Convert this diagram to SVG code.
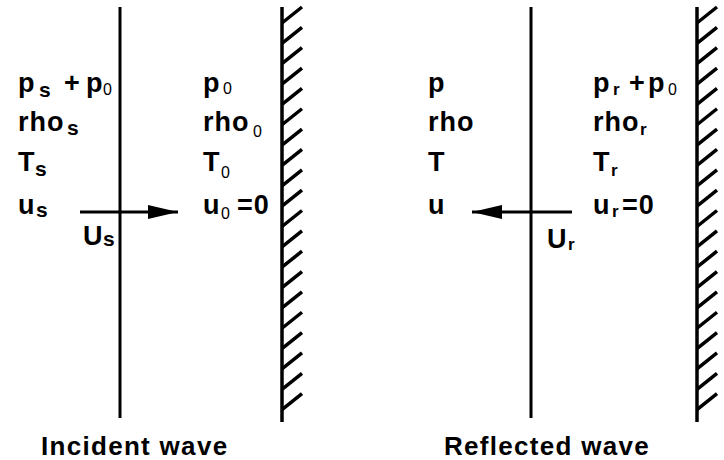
<svg xmlns="http://www.w3.org/2000/svg" width="724" height="460" viewBox="0 0 724 460">
<style>
  text { font-family: "Liberation Sans", Arial, sans-serif; fill: #000; }
  .m { font-size: 27px; font-weight: bold; letter-spacing: 1px; }
  .s { font-size: 21px; font-weight: bold; }
  .r { font-size: 17px; font-weight: bold; }
  .z { font-size: 16px; font-weight: normal; }
  .cap { font-size: 26px; font-weight: bold; letter-spacing: 1.3px; }
  .line { stroke: #000; stroke-width: 3; fill: none; }
  .hatch { stroke: #000; stroke-width: 3.5; fill: none; }
</style>
<defs>
  <marker id="ah" markerUnits="userSpaceOnUse" markerWidth="32" markerHeight="16" refX="30" refY="7" orient="auto">
    <path d="M0,0 L30,7 L0,14 Z" fill="#000"/>
  </marker>
  <g id="wall">
    <path class="hatch" d="M0,7 V422"/>
    <path class="hatch" d="M0,23 l20,-16 m-20,36.35 l20,-16 m-20,36.35 l20,-16 m-20,36.35 l20,-16 m-20,36.35 l20,-16 m-20,36.35 l20,-16 m-20,36.35 l20,-16 m-20,36.35 l20,-16 m-20,36.35 l20,-16 m-20,36.35 l20,-16 m-20,36.35 l20,-16 m-20,36.35 l20,-16 m-20,36.35 l20,-16 m-20,36.35 l20,-16 m-20,36.35 l20,-16 m-20,36.35 l20,-16 m-20,36.35 l20,-16 m-20,36.35 l20,-16 m-20,36.35 l20,-16 m-20,36.35 l20,-16"/>
  </g>
</defs>

<!-- Incident wave panel -->
<g id="incident-shock">
  <path class="line" d="M120,7 V418"/>
</g>
<g id="incident-wall">
  <use href="#wall" x="282" y="0"/>
</g>
<g id="incident-behind">
  <text class="m" x="18" y="92">p</text>
  <text class="s" x="39" y="97">s</text>
  <text class="m" x="64" y="92">+</text>
  <text class="m" x="86" y="92">p</text>
  <text class="z" x="103" y="95">0</text>
  <text class="m" x="18" y="131">rho</text>
  <text class="s" x="67" y="135">s</text>
  <text class="m" x="18" y="171">T</text>
  <text class="s" x="35" y="176">s</text>
  <text class="m" x="18" y="214">u</text>
  <text class="s" x="36" y="217">s</text>
</g>
<g id="incident-ahead">
  <text class="m" x="203" y="92">p</text>
  <text class="z" x="223" y="94">0</text>
  <text class="m" x="203" y="131">rho</text>
  <text class="z" x="253" y="137">0</text>
  <text class="m" x="203" y="171">T</text>
  <text class="z" x="221" y="178">0</text>
  <text class="m" x="203" y="214">u</text>
  <text class="z" x="221" y="219">0</text>
  <text class="m" x="237" y="214">=0</text>
</g>
<g id="incident-speed">
  <text class="m" x="83" y="245">U</text>
  <text class="s" x="103" y="246">s</text>
</g>
<g id="incident-caption">
  <text class="cap" x="41" y="455">Incident wave</text>
</g>

<!-- Reflected wave panel -->
<g id="reflected-shock">
  <path class="line" d="M531,7 V418"/>
</g>
<g id="reflected-wall">
  <use href="#wall" x="697" y="0"/>
</g>
<g id="reflected-behind">
  <text class="m" x="428" y="92">p</text>
  <text class="m" x="428" y="131">rho</text>
  <text class="m" x="428" y="171">T</text>
  <text class="m" x="428" y="214">u</text>
</g>
<g id="reflected-ahead">
  <text class="m" x="593" y="92">p</text>
  <text class="r" x="613" y="95">r</text>
  <text class="m" x="629" y="92">+</text>
  <text class="m" x="648" y="92">p</text>
  <text class="z" x="668" y="95">0</text>
  <text class="m" x="593" y="131">rho</text>
  <text class="r" x="640" y="135">r</text>
  <text class="m" x="593" y="171">T</text>
  <text class="r" x="611" y="176">r</text>
  <text class="m" x="593" y="214">u</text>
  <text class="r" x="612" y="217">r</text>
  <text class="m" x="622" y="214">=0</text>
</g>
<g id="reflected-speed">
  <text class="m" x="547" y="248">U</text>
  <text class="r" x="568" y="250">r</text>
</g>
<g id="reflected-caption">
  <text class="cap" x="444" y="455">Reflected wave</text>
</g>

<!-- Connectors -->
<g id="connectors">
  <path class="line" d="M80,212 H178" marker-end="url(#ah)"/>
  <path class="line" d="M572,212 H472" marker-end="url(#ah)"/>
</g>
</svg>
